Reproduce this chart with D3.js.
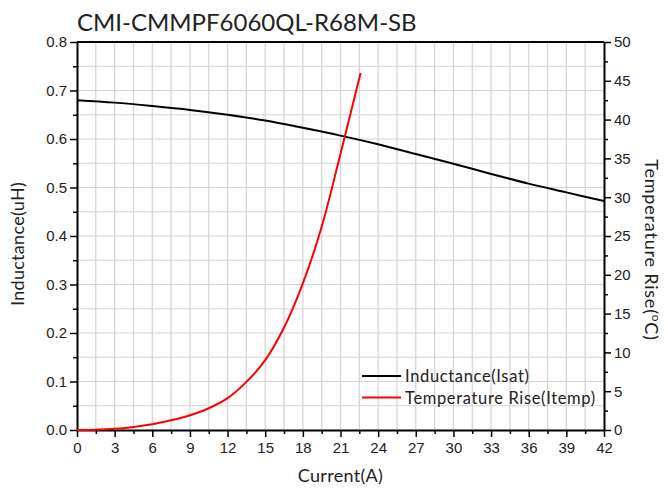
<!DOCTYPE html>
<html>
<head>
<meta charset="utf-8">
<script src="https://cdn.jsdelivr.net/npm/d3@7"></script>
<style>
  body { margin: 0; background: #fff; }
  .tick text { font-family: "Liberation Sans", Arial, sans-serif; font-size: 15px; fill: #222; }
  .lbl { font-family: "Century Gothic", Lato, "Noto Sans", sans-serif; fill: #222; }
</style>
</head>
<body>
<div id="chart"></div>
<script>
const title = "CMI-CMMPF6060QL-R68M-SB";

// Inductance (uH) vs current (A)
const indCurrent = [0, 3, 6, 9, 12, 15, 18, 21, 24, 27, 30, 33, 36, 39, 42];
const indValue   = [0.680, 0.675, 0.668, 0.660, 0.650, 0.638, 0.623, 0.607, 0.589, 0.569, 0.549, 0.528, 0.508, 0.490, 0.472];

// Temperature rise (°C) vs current (A)
const tempCurrent = [0, 1.5, 3, 4.5, 6, 7.5, 9, 10.5, 12, 13.5, 15, 16.5, 18, 19.5, 21, 22.6];
const tempValue   = [0, 0.03, 0.15, 0.4, 0.75, 1.25, 1.9, 2.8, 4.1, 6.2, 9.0, 13.2, 18.9, 26.2, 35.6, 46.0];

const xTicks = d3.range(0, 43, 3);
const yLeftTicks = [0, 0.1, 0.2, 0.3, 0.4, 0.5, 0.6, 0.7, 0.8];
const yRightTicks = d3.range(0, 51, 5);

const W = 668, H = 491;
const margin = { top: 42, right: 64, bottom: 61, left: 77 },
      width = W - margin.left - margin.right,
      height = H - margin.top - margin.bottom;

const svg = d3.select("#chart").append("svg")
    .attr("width", W).attr("height", H);

const g = svg.append("g")
    .attr("transform", `translate(${margin.left},${margin.top})`);

const x = d3.scaleLinear().domain([0, 42]).range([0, width]);
const yL = d3.scaleLinear().domain([0, 0.8]).range([height, 0]);
const yR = d3.scaleLinear().domain([0, 50]).range([height, 0]);

// grid
g.append("g").selectAll("line")
  .data(d3.range(1.5, 42, 1.5))
  .enter().append("line")
  .attr("x1", d => x(d)).attr("x2", d => x(d))
  .attr("y1", 0).attr("y2", height)
  .attr("stroke", "#d3d3d3").attr("stroke-width", 1.2);
g.append("g").selectAll("line")
  .data(d3.range(1, 16).map(i => i * 0.05))
  .enter().append("line")
  .attr("x1", 0).attr("x2", width)
  .attr("y1", d => yL(d)).attr("y2", d => yL(d))
  .attr("stroke", "#d3d3d3").attr("stroke-width", 1.2);

// minor ticks
function minor(axis, scale, vals, tr) {
  const a = g.append("g").attr("transform", tr)
    .call(axis(scale).tickValues(vals).tickSize(4).tickFormat(""));
  a.select(".domain").remove();
  a.selectAll("line").attr("stroke", "#000").attr("stroke-width", 1.5);
}
minor(d3.axisBottom, x, d3.range(1.5, 42, 3), `translate(0,${height})`);
minor(d3.axisLeft, yL, d3.range(0.05, 0.8, 0.1), null);
minor(d3.axisRight, yR, d3.range(2.5, 50, 5), `translate(${width},0)`);

// major axes
function styleAxis(a) {
  a.select(".domain").attr("stroke", "#000").attr("stroke-width", 2);
  a.selectAll(".tick line").attr("stroke", "#000").attr("stroke-width", 1.5);
}
const xa = g.append("g").attr("transform", `translate(0,${height})`)
  .call(d3.axisBottom(x).tickValues(xTicks).tickSize(7).tickSizeOuter(0).tickPadding(5));
styleAxis(xa);
const yla = g.append("g")
  .call(d3.axisLeft(yL).tickValues(yLeftTicks).tickSize(7).tickSizeOuter(0).tickFormat(d3.format(".1f")));
styleAxis(yla);
const yra = g.append("g").attr("transform", `translate(${width},0)`)
  .call(d3.axisRight(yR).tickValues(yRightTicks).tickSize(7).tickSizeOuter(0));
styleAxis(yra);

// top border
g.append("line").attr("x1", 0).attr("x2", width).attr("y1", 0).attr("y2", 0)
  .attr("stroke", "#000").attr("stroke-width", 2);

// curves
const indLine = d3.line().curve(d3.curveCatmullRom.alpha(0.5))
  .x((d, i) => x(indCurrent[i])).y(d => yL(d));
g.append("path").datum(indValue)
  .attr("d", indLine).attr("fill", "none")
  .attr("stroke", "#000").attr("stroke-width", 2);

const tempLine = d3.line().curve(d3.curveCatmullRom.alpha(0.5))
  .x((d, i) => x(tempCurrent[i])).y(d => yR(d));
g.append("path").datum(tempValue)
  .attr("d", tempLine).attr("fill", "none")
  .attr("stroke", "#ff0000").attr("stroke-width", 2);

// legend
const legend = [
  { name: "Inductance(Isat)", color: "#000" },
  { name: "Temperature Rise(Itemp)", color: "#ff0000" }
];
const lg = g.append("g").attr("transform", `translate(${362 - margin.left},${376 - margin.top})`);
legend.forEach((d, i) => {
  lg.append("line").attr("x1", 0).attr("x2", 39)
    .attr("y1", i * 21.5).attr("y2", i * 21.5)
    .attr("stroke", d.color).attr("stroke-width", 2);
  lg.append("text").attr("class", "lbl")
    .attr("x", 43).attr("y", i * 21.5 + 6)
    .attr("font-size", 16.5).attr("letter-spacing", 0.65).text(d.name);
});

// titles
svg.append("text").attr("class", "lbl")
  .attr("x", margin.left).attr("y", 31)
  .attr("font-size", 24).text(title);

svg.append("text").attr("class", "lbl")
  .attr("x", margin.left + width / 2).attr("y", 482)
  .attr("text-anchor", "middle").attr("font-size", 18).attr("letter-spacing", 0.3).text("Current(A)");

svg.append("text").attr("class", "lbl")
  .attr("transform", `translate(24,${margin.top + height / 2 + 8}) rotate(-90)`)
  .attr("text-anchor", "middle").attr("font-size", 18).attr("letter-spacing", 0.3).text("Inductance(uH)");

const rt = svg.append("text").attr("class", "lbl")
  .attr("transform", `translate(645,${margin.top + height / 2 + 14}) rotate(90)`)
  .attr("text-anchor", "middle").attr("font-size", 18).attr("letter-spacing", 0.8);
rt.append("tspan").text("Temperature Rise(");
rt.append("tspan").attr("dy", -7).attr("font-size", 12).text("o");
rt.append("tspan").attr("dy", 7).text("C)");
</script>
</body>
</html>
